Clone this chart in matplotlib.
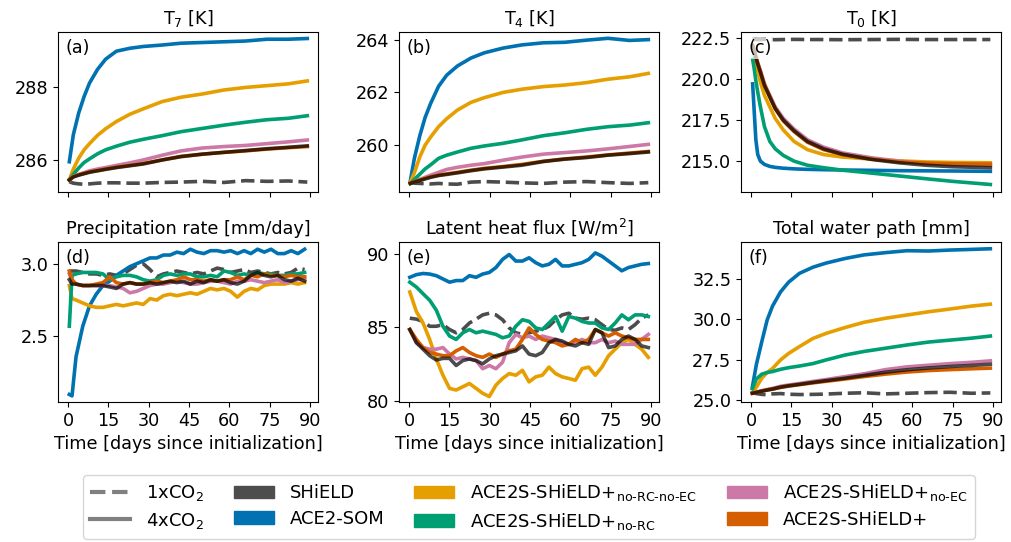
import matplotlib.pyplot as plt
import matplotlib.lines as mlines
import matplotlib.patches as mpatches
import numpy as np

plt.rcParams["font.family"] = "DejaVu Sans"
plt.rcParams["font.size"] = 12.7

# time axes (days since initialization)
days_s = [0.5, 2, 4, 6, 8, 11, 14, 18, 23, 28, 35, 42, 50, 58, 66, 74, 82, 89]
days_c = [0.6, 1.2, 1.8, 2.5, 3.5, 5, 7, 9, 12, 16, 21, 27, 34, 45, 55, 65, 75, 89]
days_d = np.concatenate(([0.5, 1.5], np.arange(3, 90, 2.5)))
days_e = np.linspace(0.3, 89, 37)

# (a) T7 [K]
t7_shield_1x = [285.40, 285.36, 285.34, 285.33, 285.34, 285.36, 285.37, 285.37, 285.36, 285.36, 285.38, 285.39, 285.41, 285.38, 285.43, 285.41, 285.42, 285.39]
t7_shield = [285.45, 285.53, 285.58, 285.62, 285.66, 285.70, 285.74, 285.79, 285.84, 285.89, 286.00, 286.09, 286.16, 286.21, 286.26, 286.31, 286.35, 286.39]
t7_som = [285.95, 286.70, 287.30, 287.75, 288.12, 288.50, 288.78, 289.00, 289.08, 289.13, 289.17, 289.22, 289.24, 289.26, 289.28, 289.33, 289.33, 289.35]
t7_norcnoec = [285.45, 285.75, 286.05, 286.28, 286.45, 286.68, 286.86, 287.06, 287.26, 287.41, 287.61, 287.73, 287.82, 287.93, 288.00, 288.05, 288.10, 288.18]
t7_norc = [285.45, 285.60, 285.78, 285.93, 286.03, 286.17, 286.28, 286.38, 286.49, 286.57, 286.67, 286.78, 286.87, 286.96, 287.04, 287.11, 287.15, 287.22]
t7_noec = [285.45, 285.55, 285.60, 285.65, 285.70, 285.75, 285.79, 285.85, 285.92, 286.00, 286.13, 286.25, 286.33, 286.37, 286.40, 286.45, 286.50, 286.55]
t7_plus = [285.45, 285.54, 285.59, 285.63, 285.67, 285.71, 285.75, 285.80, 285.85, 285.90, 286.00, 286.10, 286.16, 286.21, 286.25, 286.30, 286.34, 286.37]

# (b) T4 [K]
t4_shield_1x = [258.58, 258.56, 258.55, 258.54, 258.53, 258.55, 258.53, 258.52, 258.60, 258.62, 258.60, 258.57, 258.55, 258.60, 258.62, 258.58, 258.55, 258.58]
t4_shield = [258.55, 258.60, 258.66, 258.72, 258.78, 258.85, 258.89, 258.95, 259.03, 259.10, 259.17, 259.24, 259.38, 259.47, 259.53, 259.62, 259.68, 259.74]
t4_som = [258.65, 259.50, 260.35, 261.05, 261.57, 262.23, 262.65, 263.00, 263.30, 263.50, 263.68, 263.80, 263.88, 263.90, 263.98, 264.05, 263.97, 264.00]
t4_norcnoec = [258.60, 258.95, 259.55, 260.00, 260.30, 260.70, 261.00, 261.33, 261.62, 261.80, 262.00, 262.12, 262.22, 262.28, 262.37, 262.50, 262.59, 262.72]
t4_norc = [258.55, 258.70, 258.90, 259.10, 259.25, 259.50, 259.62, 259.74, 259.88, 259.97, 260.07, 260.20, 260.36, 260.47, 260.60, 260.70, 260.76, 260.85]
t4_noec = [258.55, 258.60, 258.70, 258.78, 258.86, 258.97, 259.08, 259.16, 259.24, 259.30, 259.43, 259.55, 259.66, 259.72, 259.78, 259.86, 259.95, 260.03]
t4_plus = [258.55, 258.61, 258.68, 258.74, 258.80, 258.86, 258.91, 258.97, 259.05, 259.12, 259.19, 259.27, 259.39, 259.48, 259.55, 259.63, 259.70, 259.76]

# (c) T0 [K]
t0_shield_1x = [222.40, 222.40, 222.41, 222.40, 222.40, 222.41, 222.40, 222.39, 222.40, 222.41, 222.40, 222.40, 222.39, 222.40, 222.41, 222.40, 222.40, 222.40]
t0_shield = [222.00, 221.70, 221.30, 220.90, 220.40, 219.60, 218.90, 218.20, 217.50, 216.85, 216.20, 215.75, 215.42, 215.10, 214.90, 214.75, 214.66, 214.60]
t0_som = [219.70, 218.00, 216.30, 215.40, 215.00, 214.80, 214.68, 214.62, 214.57, 214.53, 214.50, 214.48, 214.46, 214.44, 214.42, 214.41, 214.40, 214.38]
t0_norcnoec = [221.90, 221.50, 221.00, 220.50, 219.80, 219.00, 218.30, 217.60, 216.90, 216.20, 215.70, 215.40, 215.25, 215.12, 215.02, 214.95, 214.92, 214.90]
t0_norc = [221.20, 220.60, 219.90, 219.20, 218.30, 217.10, 216.20, 215.75, 215.35, 215.00, 214.75, 214.60, 214.45, 214.27, 214.10, 213.93, 213.77, 213.58]
t0_noec = [222.05, 221.75, 221.40, 221.00, 220.50, 219.70, 219.00, 218.30, 217.60, 216.95, 216.30, 215.85, 215.50, 215.20, 215.00, 214.85, 214.78, 214.75]
t0_plus = [222.05, 221.75, 221.35, 220.95, 220.45, 219.65, 218.90, 218.20, 217.45, 216.80, 216.15, 215.70, 215.40, 215.12, 214.95, 214.88, 214.84, 214.82]

# (d) Precipitation rate [mm/day]
pr_shield_1x = [2.95, 2.95, 2.95, 2.94, 2.93, 2.93, 2.92, 2.93, 2.92, 2.93, 2.96, 2.99, 3.00, 2.96, 2.91, 2.93, 2.94, 2.95, 2.94, 2.93,
                2.94, 2.93, 2.95, 2.97, 2.96, 2.94, 2.95, 2.96, 2.94, 2.95, 2.94, 2.93, 2.94, 2.93, 2.94, 2.97, 2.96]
pr_shield = [2.89, 2.86, 2.86, 2.85, 2.85, 2.85, 2.85, 2.84, 2.83, 2.86, 2.87, 2.86, 2.86, 2.87, 2.86, 2.87, 2.88, 2.87, 2.88, 2.86,
             2.88, 2.87, 2.89, 2.88, 2.89, 2.87, 2.86, 2.88, 2.92, 2.94, 2.92, 2.91, 2.92, 2.89, 2.88, 2.90, 2.88]
pr_som = [2.10, 2.09, 2.36, 2.57, 2.71, 2.79, 2.85, 2.88, 2.92, 2.95, 2.98, 3.00, 3.02, 3.04, 3.04, 3.06, 3.06, 3.08, 3.07, 3.10,
          3.08, 3.07, 3.09, 3.09, 3.08, 3.09, 3.07, 3.09, 3.07, 3.10, 3.08, 3.10, 3.07, 3.07, 3.09, 3.07, 3.10]
pr_norcnoec = [2.85, 2.76, 2.75, 2.73, 2.71, 2.70, 2.70, 2.71, 2.72, 2.71, 2.72, 2.73, 2.72, 2.76, 2.75, 2.78, 2.79, 2.78, 2.79, 2.80,
               2.79, 2.81, 2.83, 2.82, 2.83, 2.81, 2.77, 2.81, 2.83, 2.82, 2.85, 2.86, 2.86, 2.86, 2.87, 2.86, 2.87]
pr_norc = [2.57, 2.92, 2.93, 2.94, 2.94, 2.94, 2.93, 2.89, 2.91, 2.92, 2.92, 2.91, 2.89, 2.88, 2.89, 2.92, 2.93, 2.92, 2.93, 2.93,
           2.91, 2.91, 2.92, 2.91, 2.95, 2.94, 2.92, 2.93, 2.92, 2.94, 2.93, 2.93, 2.92, 2.92, 2.93, 2.93, 2.94]
pr_noec = [2.93, 2.88, 2.86, 2.85, 2.85, 2.85, 2.85, 2.85, 2.84, 2.83, 2.80, 2.81, 2.83, 2.85, 2.86, 2.86, 2.87, 2.88, 2.87, 2.86,
           2.86, 2.87, 2.88, 2.88, 2.87, 2.86, 2.88, 2.88, 2.89, 2.88, 2.87, 2.88, 2.89, 2.87, 2.88, 2.89, 2.90]
pr_plus = [2.95, 2.89, 2.86, 2.85, 2.85, 2.86, 2.87, 2.91, 2.87, 2.86, 2.87, 2.86, 2.86, 2.87, 2.88, 2.87, 2.88, 2.89, 2.91, 2.89,
           2.89, 2.88, 2.89, 2.88, 2.89, 2.89, 2.91, 2.89, 2.92, 2.91, 2.93, 2.92, 2.92, 2.91, 2.92, 2.91, 2.91]

# (e) Latent heat flux [W/m2]
lhf_shield_1x = [85.63, 85.56, 85.41, 85.08, 85.08, 85.19, 84.86, 84.64, 84.86, 85.30, 85.56, 85.85, 85.96, 85.85, 85.52, 84.97, 84.64, 84.53, 84.64, 84.75,
                 84.86, 85.08, 85.52, 85.85, 85.96, 85.63, 85.56, 85.63, 85.52, 85.19, 84.86, 84.81, 84.97, 84.86, 85.19, 85.63, 85.85]
lhf_shield = [84.86, 83.97, 83.53, 83.09, 82.80, 82.91, 82.91, 82.43, 82.76, 82.87, 82.76, 82.54, 82.87, 83.09, 83.20, 83.31, 83.42, 83.75, 83.20, 83.09,
              83.31, 83.97, 84.19, 84.08, 83.86, 83.75, 83.97, 83.86, 84.86, 84.64, 83.64, 83.75, 84.19, 84.42, 84.19, 83.75, 83.64]
lhf_som = [88.39, 88.57, 88.65, 88.61, 88.50, 88.28, 88.06, 88.17, 88.17, 88.50, 88.39, 88.61, 88.72, 89.05, 89.60, 89.93, 89.49, 89.49, 89.71, 89.38,
           89.16, 89.27, 89.60, 89.16, 89.16, 89.27, 89.38, 89.60, 90.04, 89.82, 89.49, 89.16, 88.83, 89.05, 89.16, 89.27, 89.32]
lhf_norcnoec = [87.40, 86.07, 85.30, 84.19, 82.87, 81.77, 80.88, 80.77, 80.99, 81.21, 80.88, 80.55, 80.33, 81.10, 81.55, 81.88, 81.77, 82.10, 81.32, 81.66,
                81.77, 82.32, 81.88, 81.66, 81.55, 81.43, 82.21, 82.32, 81.77, 82.32, 83.09, 83.53, 83.97, 84.19, 83.86, 83.53, 82.98]
lhf_norc = [88.06, 87.73, 87.28, 86.84, 86.17, 85.08, 84.42, 84.19, 84.64, 84.86, 84.64, 84.75, 84.64, 84.53, 84.30, 84.42, 85.08, 85.52, 85.41, 84.97,
            84.86, 85.30, 85.74, 84.75, 85.74, 85.63, 85.41, 85.30, 85.30, 84.97, 84.86, 85.30, 85.85, 85.52, 85.85, 85.85, 85.74]
lhf_noec = [84.86, 83.97, 83.64, 83.53, 83.53, 83.64, 83.20, 82.87, 82.98, 82.87, 82.76, 82.21, 82.43, 82.21, 82.65, 83.97, 84.53, 84.30, 84.42, 84.19,
            84.42, 84.30, 84.19, 83.97, 83.86, 83.97, 84.19, 83.97, 83.97, 84.19, 83.97, 84.08, 83.86, 83.86, 83.86, 84.19, 84.53]
lhf_plus = [84.86, 84.19, 83.64, 83.31, 83.20, 83.09, 83.09, 83.42, 83.64, 83.31, 83.09, 82.98, 83.20, 82.98, 83.20, 83.42, 83.53, 84.19, 84.97, 84.53,
            84.19, 84.08, 83.97, 83.75, 83.86, 84.19, 83.97, 84.19, 84.86, 84.64, 84.42, 84.64, 84.42, 84.30, 84.19, 84.19, 84.19]

# (f) Total water path [mm]
twp_shield_1x = [25.45, 25.40, 25.35, 25.33, 25.38, 25.40, 25.36, 25.34, 25.35, 25.37, 25.42, 25.45, 25.38, 25.42, 25.46, 25.48, 25.42, 25.44]
twp_shield = [25.42, 25.47, 25.55, 25.62, 25.68, 25.80, 25.88, 25.97, 26.09, 26.20, 26.35, 26.52, 26.72, 26.87, 26.98, 27.07, 27.14, 27.21]
twp_som = [25.80, 27.20, 28.60, 29.94, 30.80, 31.68, 32.28, 32.82, 33.20, 33.46, 33.74, 33.96, 34.10, 34.22, 34.20, 34.26, 34.30, 34.34]
twp_norcnoec = [25.45, 25.80, 26.35, 26.70, 26.95, 27.48, 27.88, 28.30, 28.80, 29.12, 29.48, 29.80, 30.05, 30.25, 30.45, 30.62, 30.80, 30.92]
twp_norc = [25.70, 26.30, 26.60, 26.70, 26.76, 26.90, 27.00, 27.10, 27.25, 27.48, 27.78, 28.00, 28.20, 28.40, 28.58, 28.70, 28.82, 28.95]
twp_noec = [25.45, 25.50, 25.58, 25.65, 25.72, 25.85, 25.93, 26.02, 26.15, 26.27, 26.45, 26.62, 26.88, 27.05, 27.15, 27.25, 27.33, 27.42]
twp_plus = [25.42, 25.47, 25.55, 25.62, 25.67, 25.78, 25.86, 25.95, 26.06, 26.16, 26.30, 26.45, 26.60, 26.73, 26.82, 26.88, 26.93, 26.97]

model_names = ["SHiELD", "ACE2-SOM", r"ACE2S-SHiELD+$_{\mathregular{no\text{-}RC\text{-}no\text{-}EC}}$",
               r"ACE2S-SHiELD+$_{\mathregular{no\text{-}RC}}$", r"ACE2S-SHiELD+$_{\mathregular{no\text{-}EC}}$", "ACE2S-SHiELD+"]
model_colors = ["#4d4d4d", "#0072B2", "#E69F00", "#009E73", "#CC79A7", "#D55E00"]

panels = [
    ("T$_7$ [K]", "(a)", days_s, t7_shield_1x, [t7_som, t7_norcnoec, t7_norc, t7_noec, t7_plus, t7_shield],
     (285.12, 289.53), [286, 288]),
    ("T$_4$ [K]", "(b)", days_s, t4_shield_1x, [t4_som, t4_norcnoec, t4_norc, t4_noec, t4_plus, t4_shield],
     (258.23, 264.29), [260, 262, 264]),
    ("T$_0$ [K]", "(c)", days_c, t0_shield_1x, [t0_som, t0_norcnoec, t0_norc, t0_noec, t0_plus, t0_shield],
     (213.13, 222.86), [215.0, 217.5, 220.0, 222.5]),
    ("Precipitation rate [mm/day]", "(d)", days_d, pr_shield_1x, [pr_som, pr_norcnoec, pr_norc, pr_noec, pr_plus, pr_shield],
     (2.048, 3.149), [2.5, 3.0]),
    ("Latent heat flux [W/m$^2$]", "(e)", days_e, lhf_shield_1x, [lhf_som, lhf_norcnoec, lhf_norc, lhf_noec, lhf_plus, lhf_shield],
     (79.96, 90.77), [80, 85, 90]),
    ("Total water path [mm]", "(f)", days_s, twp_shield_1x, [twp_som, twp_norcnoec, twp_norc, twp_noec, twp_plus, twp_shield],
     (24.88, 34.75), [25.0, 27.5, 30.0, 32.5]),
]
# colors for the solid lines, in the order they are drawn
line_colors = ["#0072B2", "#E69F00", "#009E73", "#CC79A7", "#D55E00", "black"]

fig = plt.figure(figsize=(10.11, 5.42), dpi=100)
lefts = [0.0574, 0.3947, 0.733]
bottoms = [0.646, 0.2583]
w, h = 0.2572, 0.295

for i, (title, tag, days, base, runs, ylim, yticks) in enumerate(panels):
    ax = fig.add_axes([lefts[i % 3], bottoms[i // 3], w, h])
    ax.plot(days, base, color="black", alpha=0.7, linestyle="--", linewidth=2.6)
    for vals, col in zip(runs, line_colors):
        if col == "black":
            ax.plot(days, vals, color=col, alpha=0.7, linewidth=2.6)
        else:
            ax.plot(days, vals, color=col, linewidth=2.6)
    ax.set_xlim(-3.7, 93.0)
    ax.set_ylim(ylim)
    ax.set_yticks(yticks)
    ax.set_xticks([0, 15, 30, 45, 60, 75, 90])
    if i < 3:
        ax.set_xticklabels([])
    else:
        ax.set_xlabel("Time [days since initialization]")
    ax.set_title(title, fontsize=12.7)
    ax.text(0.027, 0.955, tag, transform=ax.transAxes, va="top", ha="left",
            bbox=dict(facecolor="white", alpha=0.7, edgecolor="none", pad=1))

handles = [mlines.Line2D([], [], color="gray", linestyle="--", linewidth=3),
           mlines.Line2D([], [], color="gray", linestyle="-", linewidth=3)]
labels = ["1xCO$_2$", "4xCO$_2$"]
for name, col in zip(model_names, model_colors):
    handles.append(mpatches.Patch(color=col))
    labels.append(name)

fig.legend(handles, labels, ncol=4, loc="center", bbox_to_anchor=(529 / 1011, 1 - 507 / 542),
           fontsize=13, handlelength=2.2, handletextpad=0.9, columnspacing=1.65, labelspacing=0.4)

fig.savefig("out.png", dpi=100)
